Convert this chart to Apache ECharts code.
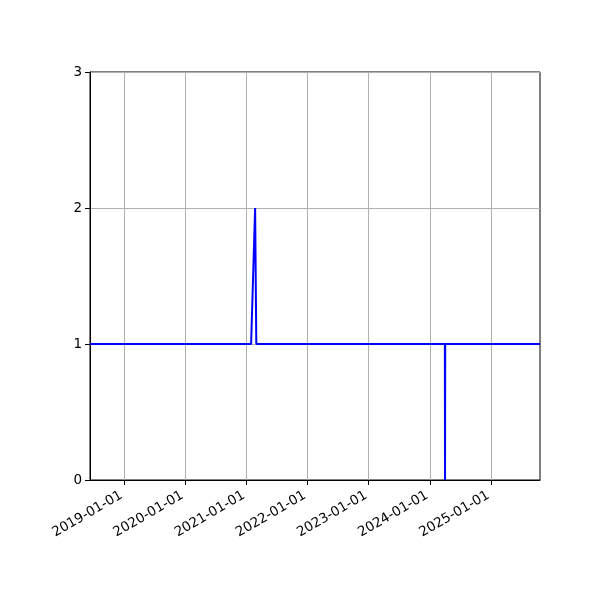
<!DOCTYPE html>
<html>
<head>
<meta charset="utf-8">
<script src="https://cdn.jsdelivr.net/npm/echarts@6/dist/echarts.min.js"></script>
<style>
html,body{margin:0;padding:0;background:#fff;}
#chart{width:600px;height:600px;}
</style>
</head>
<body>
<div id="chart"></div>
<script>
var dates = ['2018-06-12','2021-01-29','2021-02-22','2021-03-01','2024-03-31','2024-04-01','2024-04-02','2025-10-20'];
var values = [1, 1, 2, 1, 1, 0, 1, 1];
var xTicks = ['2019-01-01','2020-01-01','2021-01-01','2022-01-01','2023-01-01','2024-01-01','2025-01-01'];
var xMin = '2018-06-12';
var xMax = '2025-10-20';
var yTicks = [0, 1, 2, 3];

function ts(s){ return new Date(s + 'T00:00:00Z').getTime(); }
function fmt(v){
  var d = new Date(v);
  var m = d.getUTCMonth()+1, dd = d.getUTCDate();
  return d.getUTCFullYear() + '-' + (m<10?'0':'') + m + '-' + (dd<10?'0':'') + dd;
}
var tickVals = xTicks.map(ts);

var chart = echarts.init(document.getElementById('chart'));
chart.setOption({
  animation: false,
  backgroundColor: '#fff',
  textStyle: { fontFamily: 'DejaVu Sans' },
  grid: { left: 90, right: 60, top: 72, bottom: 120, show: true, borderColor: '#000', borderWidth: 1, backgroundColor: 'transparent' },
  xAxis: {
    type: 'value',
    min: ts(xMin), max: ts(xMax),
    axisLine: { show: true, onZero: false, lineStyle: { color: '#000', width: 1 } },
    axisTick: { show: true, length: 5, inside: false, customValues: tickVals, lineStyle: { color: '#000', width: 1 } },
    axisLabel: { customValues: tickVals, rotate: 30, color: '#000', fontSize: 13.5, fontFamily: 'DejaVu Sans', margin: 13, padding: [0, 3, 0, 0], formatter: function(v){ return fmt(v); } },
    splitLine: { show: true, lineStyle: { color: '#b0b0b0', width: 1 } }
  },
  yAxis: {
    type: 'value',
    min: yTicks[0], max: yTicks[yTicks.length-1], interval: 1,
    axisLine: { show: true, lineStyle: { color: '#000', width: 1 } },
    axisTick: { show: true, length: 5, lineStyle: { color: '#000', width: 1 } },
    axisLabel: { color: '#000', fontSize: 13.5, fontFamily: 'DejaVu Sans', margin: 8 },
    splitLine: { show: true, lineStyle: { color: '#b0b0b0', width: 1 } }
  },
  series: [{
    type: 'line',
    data: dates.map(function(d, i){ return [ts(d), values[i]]; }),
    showSymbol: false,
    symbol: 'none',
    lineStyle: { color: '#0000ff', width: 2 },
    itemStyle: { color: '#0000ff' },
    clip: true
  }]
});
</script>
</body>
</html>
